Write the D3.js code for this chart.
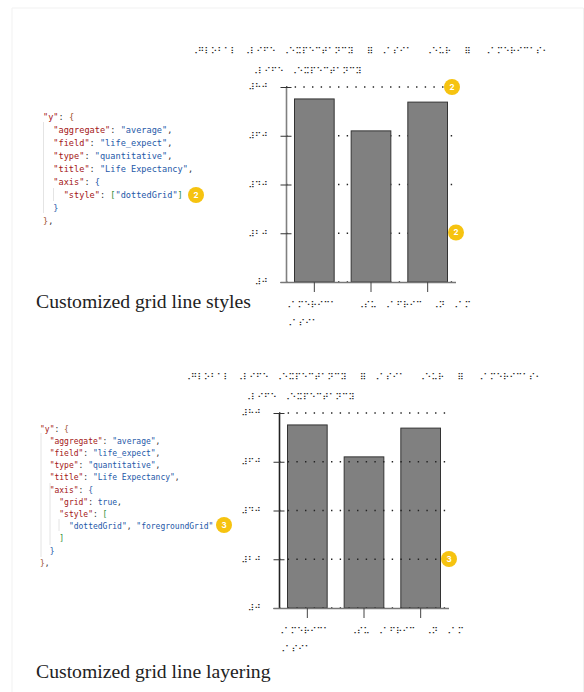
<!DOCTYPE html>
<html>
<head>
<meta charset="utf-8">
<script src="https://cdn.jsdelivr.net/npm/d3@7"></script>
<style>
  html, body { margin: 0; padding: 0; background: #fff; }
  svg { display: block; }
  .braille { font-family: "DejaVu Sans"; font-size: 8.9px; fill: #222; }
  .code { font-family: "DejaVu Sans Mono"; white-space: pre; }
  .caption { font-family: "Liberation Serif"; font-size: 19.7px; fill: #222; }
</style>
</head>
<body>
<div id="chart"></div>
<script>
// Chart data
const regions = ["a", "b", "c"];
const lifeExpect = [75.1, 62, 73.8];
const yTicks = [0, 20, 40, 60, 80];
const yTickLabels = ["⠼⠚", "⠼⠃⠚", "⠼⠙⠚", "⠼⠋⠚", "⠼⠓⠚"];
const regionLabels = [
  ["⠠⠁⠍⠑⠗⠊⠉⠁", "⠠⠁⠎⠊⠁"],
  ["⠠⠎⠥⠀⠠⠁⠋⠗⠊⠉"],
  ["⠠⠝⠀⠠⠁⠍"],
];
const chartTitle = "⠠⠛⠇⠕⠃⠁⠇⠀⠠⠇⠊⠋⠑⠀⠠⠑⠭⠏⠑⠉⠞⠁⠝⠉⠽⠀⠀⠿⠀⠠⠁⠎⠊⠁⠀⠀⠠⠑⠥⠗⠀⠀⠿⠀⠀⠠⠁⠍⠑⠗⠊⠉⠁⠎⠂";
const yTitle = "⠠⠇⠊⠋⠑⠀⠠⠑⠭⠏⠑⠉⠞⠁⠝⠉⠽";

// Code snippets: [text, colour] tokens per line
const RED = "#a31515", BLUE = "#2458a8", GREEN = "#2f8f3a", DARK = "#333", BROWN = "#a0522d";
const codeTop = [
  [['"y"', RED], [": ", DARK], ["{", BROWN]],
  [['  "aggregate"', RED], [": ", DARK], ['"average"', BLUE], [",", DARK]],
  [['  "field"', RED], [": ", DARK], ['"life_expect"', BLUE], [",", DARK]],
  [['  "type"', RED], [": ", DARK], ['"quantitative"', BLUE], [",", DARK]],
  [['  "title"', RED], [": ", DARK], ['"Life Expectancy"', BLUE], [",", DARK]],
  [['  "axis"', RED], [": ", DARK], ["{", BLUE]],
  [['    "style"', RED], [": ", DARK], ["[", GREEN], ['"dottedGrid"', BLUE], ["]", GREEN]],
  [["  }", BLUE]],
  [["}", BROWN], [",", DARK]],
];
const codeBottom = [
  [['"y"', RED], [": ", DARK], ["{", BROWN]],
  [['  "aggregate"', RED], [": ", DARK], ['"average"', BLUE], [",", DARK]],
  [['  "field"', RED], [": ", DARK], ['"life_expect"', BLUE], [",", DARK]],
  [['  "type"', RED], [": ", DARK], ['"quantitative"', BLUE], [",", DARK]],
  [['  "title"', RED], [": ", DARK], ['"Life Expectancy"', BLUE], [",", DARK]],
  [['  "axis"', RED], [": ", DARK], ["{", BLUE]],
  [['    "grid"', RED], [": ", DARK], ["true", BLUE], [",", DARK]],
  [['    "style"', RED], [": ", DARK], ["[", GREEN]],
  [['      "dottedGrid"', BLUE], [", ", DARK], ['"foregroundGrid"', BLUE]],
  [["    ]", GREEN]],
  [["  }", BLUE]],
  [["}", BROWN], [",", DARK]],
];

const svg = d3.select("#chart").append("svg").attr("width", 584).attr("height", 692);

// Faint page frame of the screenshot
svg.append("path")
  .attr("d", "M12,692V8H583.5V692")
  .attr("fill", "none")
  .attr("stroke", "#f1f1f1");

const innerWidth = 170;
const innerHeight = 195;

function badge(x, y, label) {
  const g = svg.append("g").attr("transform", `translate(${x},${y})`);
  g.append("circle").attr("r", 8).attr("fill", "#f6c310");
  g.append("text")
    .attr("text-anchor", "middle")
    .attr("dy", "0.35em")
    .attr("font-family", "Inter")
    .attr("font-size", 8)
    .attr("font-weight", 700)
    .attr("fill", "#fff")
    .text(label);
}

function drawChart(left, top, gridOnTop, domainColor) {
  const g = svg.append("g").attr("transform", `translate(${left},${top})`);

  const x = d3.scaleBand().domain(regions).range([0, innerWidth]).paddingInner(0.3).paddingOuter(0.15);
  const y = d3.scaleLinear().domain([0, 80]).range([innerHeight, 0]);

  function drawGrid() {
    g.append("g").selectAll("line").data(yTicks).join("line")
      .attr("x1", 0)
      .attr("x2", innerWidth)
      .attr("y1", (d) => y(d))
      .attr("y2", (d) => y(d))
      .attr("stroke", "#222")
      .attr("stroke-width", 1.4)
      .attr("stroke-dasharray", "1.4,7.27");
  }

  if (!gridOnTop) drawGrid();

  g.append("g").selectAll("rect").data(regions).join("rect")
    .attr("x", (d) => x(d))
    .attr("y", (d, i) => y(lifeExpect[i]))
    .attr("width", x.bandwidth())
    .attr("height", (d, i) => innerHeight - y(lifeExpect[i]))
    .attr("fill", "#808080")
    .attr("stroke", "#333")
    .attr("stroke-width", 1);

  if (gridOnTop) drawGrid();

  // y axis
  const yAxis = g.append("g").call(
    d3.axisLeft(y).tickValues(yTicks).tickSize(0).tickFormat((d, i) => yTickLabels[i])
  );
  yAxis.attr("font-family", null).attr("font-size", null);
  yAxis.select(".domain").attr("stroke", domainColor).attr("stroke-width", 1.6);
  yAxis.selectAll(".tick line").attr("x1", -5.5).attr("x2", 5.5).attr("stroke", "#333").attr("stroke-width", 1);
  yAxis.selectAll(".tick text")
    .attr("class", "braille")
    .attr("x", -18)
    .attr("dy", "0.32em");

  // x axis
  const xAxis = g.append("g")
    .attr("transform", `translate(0,${innerHeight})`)
    .call(d3.axisBottom(x).tickSize(10).tickSizeOuter(0).tickFormat(""));
  xAxis.select(".domain")
    .attr("d", `M-5.5,0.5H${innerWidth}`)
    .attr("stroke", "#777")
    .attr("stroke-width", 1.4);
  xAxis.selectAll(".tick line").attr("stroke", "#444").attr("stroke-width", 1);

  // x labels sit off-centre from their ticks in the reference
  const labelShift = [-29.5, -13.5, 4.5];
  regions.forEach((r, i) => {
    regionLabels[i].forEach((line, j) => {
      g.append("text")
        .attr("class", "braille")
        .attr("x", x(r) + x.bandwidth() / 2 + labelShift[i] + (j === 1 ? 1 : 0))
        .attr("y", innerHeight + 26 + j * 18)
        .text(line);
    });
  });

  g.append("text").attr("class", "braille").attr("x", -94.5).attr("y", -33).text(chartTitle);
  g.append("text").attr("class", "braille").attr("x", -34.5).attr("y", -13).text(yTitle);
}

function drawCode(lines, x, y0, step, size) {
  const charWidth = size * 0.602;
  lines.forEach((tokens, i) => {
    let col = 0;
    tokens.forEach(([text, color]) => {
      svg.append("text")
        .attr("class", "code")
        .attr("font-size", size)
        .attr("x", x + col * charWidth)
        .attr("y", y0 + i * step)
        .attr("fill", color)
        .text(text);
      col += text.length;
    });
  });
}

function guide(x, y1, y2) {
  svg.append("line")
    .attr("x1", x).attr("x2", x).attr("y1", y1).attr("y2", y2)
    .attr("stroke", "#e4e4e4");
}

drawChart(286, 87, false, "#808080");
drawChart(279, 413, true, "#222");

guide(43.5, 122, 213);
guide(53.5, 188, 201);
drawCode(codeTop, 43, 120, 13, 8.6);

guide(41, 433, 557);
guide(50, 483, 545);
guide(59, 519, 531);
drawCode(codeBottom, 40, 431.5, 12.2, 8);

svg.append("text").attr("class", "caption").attr("x", 36).attr("y", 308).text("Customized grid line styles");
svg.append("text").attr("class", "caption").attr("x", 36).attr("y", 678).text("Customized grid line layering");

badge(452, 87, "2");
badge(456, 232.5, "2");
badge(196, 195, "2");
badge(449, 559, "3");
badge(224, 525, "3");
</script>
</body>
</html>
